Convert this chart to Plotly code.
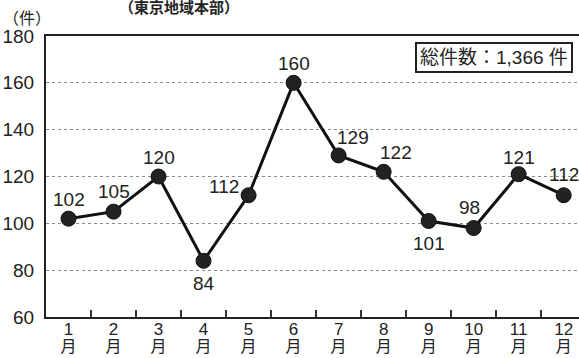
import plotly.graph_objects as go

# Monthly counts
month_nums = ["1", "2", "3", "4", "5", "6", "7", "8", "9", "10", "11", "12"]
month_suffix = "月"
counts = [102, 105, 120, 84, 112, 160, 129, 122, 101, 98, 121, 112]
y_ticks = [60, 80, 100, 120, 140, 160, 180]
total_label = "総件数：1,366 件"
unit_label = "（件）"
title_text = "（東京地域本部）"

# Label offsets (pixels) for each point's value text
label_dx = [0, 0, 0, 0, -25, 0, 14, 12, 0, -4, 0, 0]
label_dy = [19, 20, 19, -23, 9, 19, 18, 19, -23, 21, 17, 21]

FONT = "Liberation Sans, Arial, Noto Sans CJK JP, sans-serif"
xpos = list(range(1, len(counts) + 1))

# two-line month labels: number above, "月" below (tight line spacing comes
# from the small base tick font; each line is sized with its own span)
month_ticktext = [
    f"<span style='font-size:17px'>{n}</span><br>"
    f"<span style='font-size:16px'>{month_suffix}</span>"
    for n in month_nums
]

fig = go.Figure()
fig.add_trace(go.Scatter(
    x=xpos, y=counts, mode="lines+markers",
    line=dict(color="#111111", width=3),
    marker=dict(size=15, color="#222222", line=dict(color="#111111", width=1)),
    hoverinfo="skip", showlegend=False,
))

for xv, yv, dx, dy in zip(xpos, counts, label_dx, label_dy):
    fig.add_annotation(x=xv, y=yv, text=str(yv), showarrow=False,
                       xshift=dx, yshift=dy,
                       font=dict(family=FONT, size=19, color="#222222"))

fig.add_annotation(xref="paper", yref="paper", x=0.988, y=0.978,
                   xanchor="right", yanchor="top", text=total_label,
                   showarrow=False, bordercolor="#222222", borderwidth=2,
                   borderpad=3, bgcolor="white",
                   font=dict(family=FONT, size=19, color="#222222"))

fig.add_annotation(xref="paper", yref="paper", x=-0.085, y=1.025,
                   xanchor="left", yanchor="bottom", text=unit_label,
                   showarrow=False,
                   font=dict(family=FONT, size=16, color="#222222"))

fig.add_annotation(xref="paper", yref="paper", x=0.25, y=1.065,
                   xanchor="center", yanchor="bottom", text=f"<b>{title_text}</b>",
                   showarrow=False,
                   font=dict(family=FONT, size=15, color="#222222"))

fig.update_xaxes(
    range=[0.5, 12.34], tickvals=xpos, ticktext=month_ticktext,
    showline=True, linecolor="#222222", linewidth=2, mirror=True,
    showgrid=False, ticks="", zeroline=False, automargin=False,
    tickfont=dict(family=FONT, size=13, color="#222222"),
    fixedrange=True,
)
# minor ticks between months, pointing up into the plot
fig.update_xaxes(minor=dict(tickvals=[v + 0.5 for v in xpos[:-1]], ticks="inside",
                            ticklen=7, tickcolor="#333333", tickwidth=1.5,
                            showgrid=False))

fig.update_yaxes(
    range=[60, 180], tickvals=y_ticks,
    showline=True, linecolor="#222222", linewidth=2,
    showgrid=True, gridcolor="#8a8a8a", griddash="dot", gridwidth=1,
    zeroline=False, ticks="", ticklabelstandoff=6, automargin=False,
    tickfont=dict(family=FONT, size=19, color="#222222"),
    fixedrange=True,
)

fig.update_layout(
    width=579, height=358,
    margin=dict(l=46, r=0, t=36, b=41),
    paper_bgcolor="white", plot_bgcolor="white",
)

fig.write_html("out.html", config={"displayModeBar": False})
